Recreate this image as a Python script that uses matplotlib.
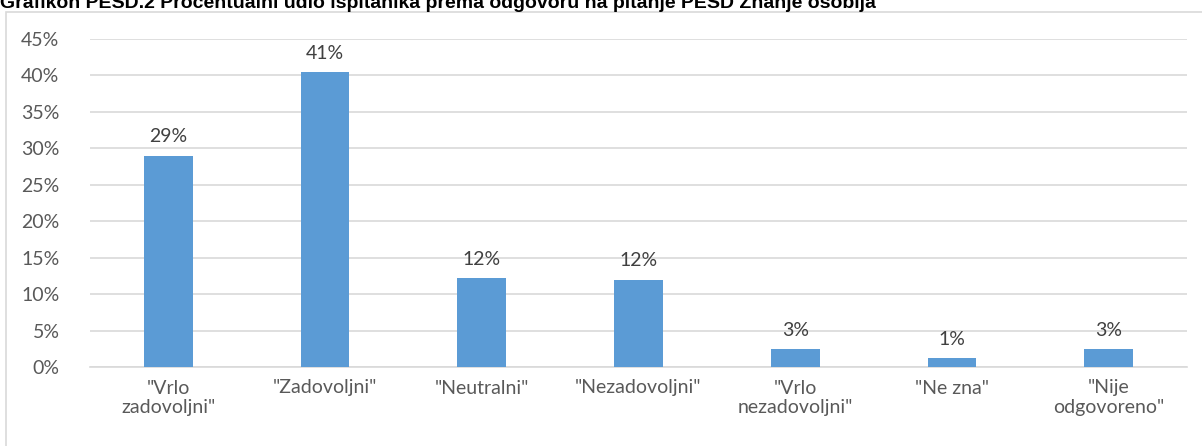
import matplotlib
matplotlib.use("Agg")
import matplotlib.pyplot as plt
from matplotlib.patches import Rectangle
from matplotlib.ticker import FuncFormatter, MultipleLocator

categories = ['"Vrlo\nzadovoljni"', '"Zadovoljni"', '"Neutralni"', '"Nezadovoljni"',
              '"Vrlo\nnezadovoljni"', '"Ne zna"', '"Nije\nodgovoreno"']
values = [29.0, 40.5, 12.2, 12.0, 2.5, 1.2, 2.5]
labels = ["29%", "41%", "12%", "12%", "3%", "1%", "3%"]
title = "Grafikon PESD.2 Procentualni udio ispitanika prema odgovoru na pitanje PESD Znanje osoblja"

plt.rcParams['font.family'] = ['Lato', 'DejaVu Sans']
W, H = 1202, 446
fig = plt.figure(figsize=(W / 100, H / 100), dpi=100)

# chart border
fig.patches.append(Rectangle((6 / W, -0.05), (W - 6) / W + 0.05, (H - 12) / H + 0.05,
                             transform=fig.transFigure, fill=False, edgecolor='#d9d9d9',
                             linewidth=1.2))

fig.text(0 / W, 1 - 3 / H, title, fontsize=14, fontweight='bold', color='black',
         ha='left', va='center', family=['Liberation Sans', 'DejaVu Sans'])

ax = fig.add_axes([90 / W, 79 / H, (1187 - 90) / W, (367 - 39) / H])
x = range(len(categories))
ax.bar(x, values, width=0.31, color='#5b9bd5', zorder=3)
for xi, v, lab in zip(x, values, labels):
    ax.text(xi, v + 1.4, lab, ha='center', va='bottom', fontsize=14, color='#404040')

ax.set_xlim(-0.5, len(categories) - 0.5)
ax.set_ylim(0, 45)
ax.yaxis.set_major_locator(MultipleLocator(5))
ax.yaxis.set_major_formatter(FuncFormatter(lambda v, p: f"{int(round(v))}%"))
ax.set_xticks(list(x))
ax.set_xticklabels(categories, fontsize=14, color='#595959', linespacing=1.2)
ax.tick_params(axis='y', labelsize=14, labelcolor='#595959', length=0, pad=22)
ax.tick_params(axis='x', length=0, pad=9)
ax.grid(axis='y', color='#d9d9d9', linewidth=1.2, zorder=0)
for s in ['top', 'right', 'left']:
    ax.spines[s].set_visible(False)
ax.spines['bottom'].set_color('#d9d9d9')
ax.spines['bottom'].set_linewidth(1.2)

fig.savefig("out.png", dpi=100)
